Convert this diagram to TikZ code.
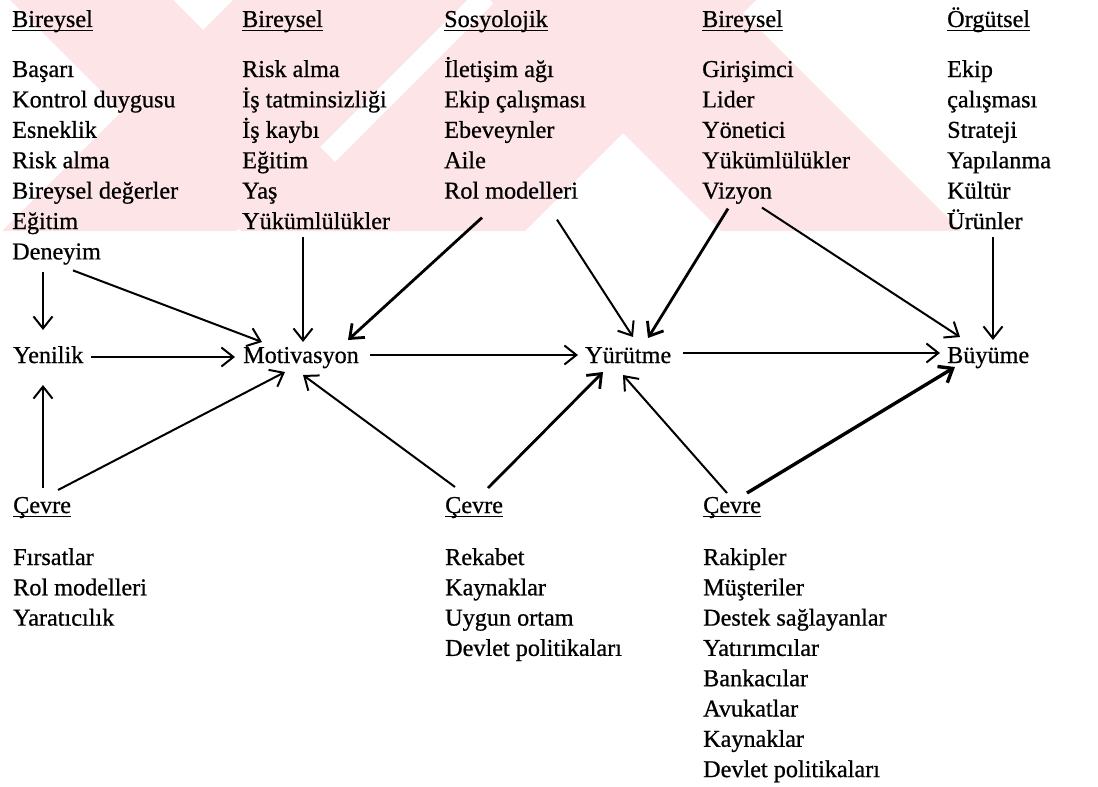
\documentclass[tikz,border=0pt]{standalone}
\usepackage{fontspec}
\setmainfont{Liberation Serif}[FakeBold=0.7]
\usetikzlibrary{arrows.meta}
\definecolor{wmpink}{RGB}{252,228,231}
\newsavebox{\hdbox}
\newcommand{\hdline}[1]{\sbox\hdbox{#1}\rlap{\rule[-4pt]{\wd\hdbox}{1.4pt}}\usebox\hdbox}

\begin{document}
\begin{tikzpicture}[x=1pt,y=-1pt,font=\fontsize{24.2}{30.4}\selectfont,
    txt/.style={anchor=base west,inner sep=0pt},
    arr/.style={line width=2pt,-{Straight Barb[length=12pt,width=19pt]}},
    thk/.style={arr,line width=2.8pt}]
  \useasboundingbox (0,0) rectangle (1098,787);

  % faint watermark bands
  \begin{scope}
    \clip (0,0) rectangle (1098,231);
    \fill[wmpink] (10,0) -- (173,0) -- (404,231) -- (241,231) -- cycle;
    \fill[wmpink] (233,0) -- (467,0) -- (236,231) -- (2,231) -- cycle;
    \fill[wmpink] (497,0) -- (756,0) -- (525,231) -- (266,231) -- cycle;
    \fill[wmpink] (490,0) -- (730,0) -- (961,231) -- (721,231) -- cycle;
  \end{scope}

  % top columns
  \node[txt] (a0) at (12,27) {\hdline{Bireysel}};
  \node[txt] (b0) at (242,27) {\hdline{Bireysel}};
  \node[txt] (c0) at (444,27) {\hdline{Sosyolojik}};
  \node[txt] (d0) at (702,27) {\hdline{Bireysel}};
  \node[txt] (e0) at (947,27) {\hdline{Örgütsel}};
  \foreach \w [count=\i] in {Başarı,Kontrol duygusu,Esneklik,Risk alma,Bireysel değerler,Eğitim,Deneyim}
    \node[txt] (a\i) at (12,{46.6+30.4*\i}) {\w};
  \foreach \w [count=\i] in {Risk alma,İş tatminsizliği,İş kaybı,Eğitim,Yaş,Yükümlülükler}
    \node[txt] (b\i) at (242,{46.6+30.4*\i}) {\w};
  \foreach \w [count=\i] in {İletişim ağı,Ekip çalışması,Ebeveynler,Aile,Rol modelleri}
    \node[txt] (c\i) at (444,{46.6+30.4*\i}) {\w};
  \foreach \w [count=\i] in {Girişimci,Lider,Yönetici,Yükümlülükler,Vizyon}
    \node[txt] (d\i) at (702,{46.6+30.4*\i}) {\w};
  \foreach \w [count=\i] in {Ekip,çalışması,Strateji,Yapılanma,Kültür,Ürünler}
    \node[txt] (e\i) at (947,{46.6+30.4*\i}) {\w};

  % middle row
  \node[txt] (yen) at (13,363) {Yenilik};
  \node[txt] (mot) at (243,363) {Motivasyon};
  \node[txt] (yur) at (585,363) {Yürütme};
  \node[txt] (buy) at (947,363) {Büyüme};

  % bottom columns
  \node[txt] (f0) at (13,513) {\hdline{Çevre}};
  \node[txt] (g0) at (445,513) {\hdline{Çevre}};
  \node[txt] (h0) at (703,513) {\hdline{Çevre}};
  \foreach \w [count=\i] in {Fırsatlar,Rol modelleri,Yaratıcılık}
    \node[txt] (f\i) at (13,{534.7+30.3*\i}) {\w};
  \foreach \w [count=\i] in {Rekabet,Kaynaklar,Uygun ortam,Devlet politikaları}
    \node[txt] (g\i) at (445,{534.7+30.3*\i}) {\w};
  \foreach \w [count=\i] in {Rakipler,Müşteriler,Destek sağlayanlar,Yatırımcılar,Bankacılar,Avukatlar,Kaynaklar,Devlet politikaları}
    \node[txt] (h\i) at (703,{534.7+30.3*\i}) {\w};

  % arrows from above
  \draw[arr] ([shift={(31,13)}]a7.base west) -- ([shift={(30,-33)}]yen.base west);
  \draw[arr] ([shift={(61,11)}]a7.base west) -- ([shift={(19,-21)}]mot.base west);
  \draw[arr] ([shift={(61,8)}]b6.base west) -- ([shift={(60,-21)}]mot.base west);
  \draw[thk] ([shift={(38,19)}]c5.base west) -- ([shift={(105,-23)}]mot.base west);
  \draw[arr] ([shift={(113,21)}]c5.base west) -- ([shift={(48,-26)}]yur.base west);
  \draw[thk] ([shift={(26,10)}]d5.base west) -- ([shift={(63,-25)}]yur.base west);
  \draw[arr] ([shift={(60,9)}]d5.base west) -- ([shift={(13,-26)}]buy.base west);
  \draw[arr] ([shift={(46,8)}]e6.base west) -- ([shift={(46,-23)}]buy.base west);

  % main chain
  \draw[arr] ([shift={(78,-6)}]yen.base west) -- ([shift={(-8,-6)}]mot.base west);
  \draw[arr] ([shift={(127,-8)}]mot.base west) -- ([shift={(-7,-8)}]yur.base west);
  \draw[arr] ([shift={(98,-10)}]yur.base west) -- ([shift={(-7,-10)}]buy.base west);

  % arrows from below
  \draw[arr] ([shift={(30,-25)}]f0.base west) -- ([shift={(30,22)}]yen.base west);
  \draw[arr] ([shift={(45,-23)}]f0.base west) -- ([shift={(42,9)}]mot.base west);
  \draw[arr] ([shift={(10,-26)}]g0.base west) -- ([shift={(60,12)}]mot.base west);
  \draw[thk] ([shift={(43,-25)}]g0.base west) -- ([shift={(18,9)}]yur.base west);
  \draw[arr] ([shift={(24,-20)}]h0.base west) -- ([shift={(38,12)}]yur.base west);
  \draw[thk,line width=3.4pt] ([shift={(44,-20)}]h0.base west) -- ([shift={(8,4)}]buy.base west);
\end{tikzpicture}
\end{document}
